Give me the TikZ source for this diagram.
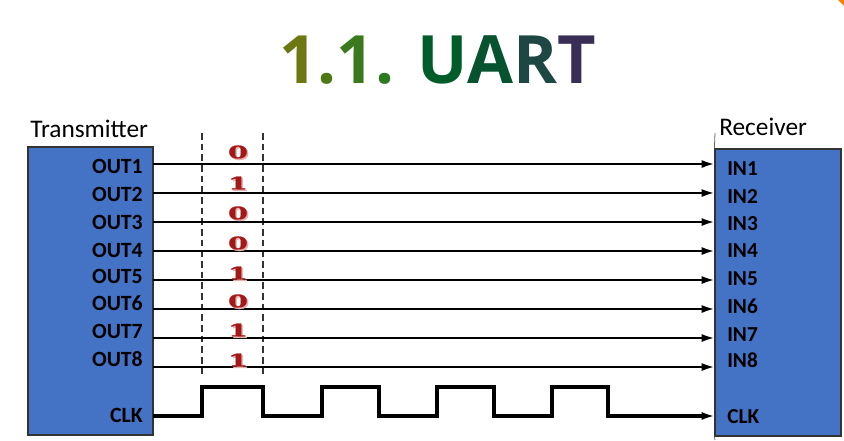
\documentclass[tikz,border=0pt]{standalone}
\usepackage{fontspec}
\setmainfont{Carlito}
\newfontfamily\titlefont{Open Sans}
\newfontfamily\bitfont{DejaVu Serif}[BoldFeatures={FakeBold=1.2}]
\usetikzlibrary{arrows.meta,fit}
\definecolor{boxblue}{HTML}{4472C4}
\definecolor{bitred}{HTML}{A51818}
\definecolor{bitshadow}{HTML}{E6B0B0}
\definecolor{tc1}{HTML}{6E7812}
\definecolor{tc2}{HTML}{4E7A16}
\definecolor{tc3}{HTML}{3A7A1C}
\definecolor{tc4}{HTML}{2E7A1E}
\definecolor{tc5}{HTML}{005C28}
\definecolor{tc6}{HTML}{07532F}
\definecolor{tc7}{HTML}{1E4744}
\definecolor{tc8}{HTML}{392E55}
\begin{document}
\begin{tikzpicture}[x=0.75pt,y=-0.75pt,
  unit/.style={draw=black!80, line width=0.9pt, fill=boxblue, inner sep=0pt},
  sig/.style={line width=1.9pt, -{Latex[length=10pt,width=6pt]}},
  clkwave/.style={line width=2.3pt, line join=miter, -{Latex[length=10pt,width=6pt]}},
  guide/.style={line width=1.2pt, draw=black!80, dash pattern=on 5pt off 3pt},
  outlbl/.style={anchor=base east, inner sep=0pt, font=\bfseries\fontsize{16.3}{16.3}\selectfont},
  inlbl/.style={anchor=base west, inner sep=0pt, font=\bfseries\fontsize{16}{16}\selectfont},
  caption/.style={anchor=base west, inner sep=0pt, font=\fontsize{19}{19}\selectfont},
  bit/.style={inner sep=0pt, text=bitred, font=\bitfont\bfseries\fontsize{13}{13}\selectfont},
  bitsh/.style={inner sep=0pt, text=bitshadow, font=\bitfont\bfseries\fontsize{13}{13}\selectfont}]
\useasboundingbox (0,0) rectangle (844,440);
\fill[white] (0,0) rectangle (844,440);
\fill[orange!85!brown] (838,0) -- (844,0) -- (844,6) -- cycle;

% title
\node[anchor=base, inner sep=0pt, font=\titlefont\bfseries\fontsize{50}{50}\selectfont] (title) at (438,83)
  {\textcolor{tc1}{1}\textcolor{tc2}{.}\textcolor{tc3}{1}\textcolor{tc4}{.} \textcolor{tc5}{U}\textcolor{tc6}{A}\textcolor{tc7}{R}\textcolor{tc8}{T}};

% boxes
\coordinate (ta) at (28,147); \coordinate (tb) at (153,435);
\coordinate (ra) at (715,149); \coordinate (rb) at (841,436);
\node[unit, fit=(ta)(tb)] (tx) {};
\node[unit, fit=(ra)(rb)] (rx) {};
\coordinate (rtop) at (715,133); \coordinate (rbot) at (715,440);
\draw[black!60, line width=0.6pt] (rtop) -- (rx.north west) (rx.south west) -- (rbot);

\node[caption] (txcap) at (30,137) {Transmitter};
\node[caption] (rxcap) at (719,135) {Receiver};

% dashed guides
\coordinate (g1a) at (202,133); \coordinate (g1b) at (202,377);
\coordinate (g2a) at (263,133); \coordinate (g2b) at (263,377);
\draw[guide] (g1a) -- (g1b);
\draw[guide] (g2a) -- (g2b);

% signal lines
\foreach \i/\y in {1/164,2/193,3/222,4/251,5/280,6/309,7/338,8/367}{
  \coordinate (o\i) at (153,\y);
  \coordinate (n\i) at (715,\y);
  \draw[sig] (o\i) -- (n\i);
}

% labels
\foreach \i/\y in {1/173,2/201,3/229,4/257,5/283,6/310,7/338,8/366}{
  \node[outlbl] (out\i) at (143,\y) {OUT\i};
}
\node[outlbl] (outclk) at (143,422) {CLK};
\foreach \i/\y in {1/175,2/203,3/230,4/257,5/285,6/313,7/341,8/367}{
  \node[inlbl] (in\i) at (727,\y) {IN\i};
}
\node[inlbl] (inclk) at (727,423) {CLK};

% bits
\foreach \i/\y/\b in {1/152/0,2/183/1,3/213/0,4/243/0,5/273/1,6/301/0,7/330/1,8/360/1}{
  \node[bitsh] (bs\i) at (239.5,\y+1.5) {\scalebox{1.65}[1]{\b}};
  \node[bit] (b\i) at (238,\y) {\scalebox{1.65}[1]{\b}};
}

% clock
\coordinate (ck0) at (153,416);
\coordinate (ck1) at (715,416);
\draw[clkwave] (ck0) -- (202,416) -- (202,387) -- (263,387) -- (263,416)
  -- (322,416) -- (322,387) -- (379,387) -- (379,416)
  -- (437,416) -- (437,387) -- (494,387) -- (494,416)
  -- (552,416) -- (552,387) -- (608,387) -- (608,416) -- (ck1);
\end{tikzpicture}
\end{document}
